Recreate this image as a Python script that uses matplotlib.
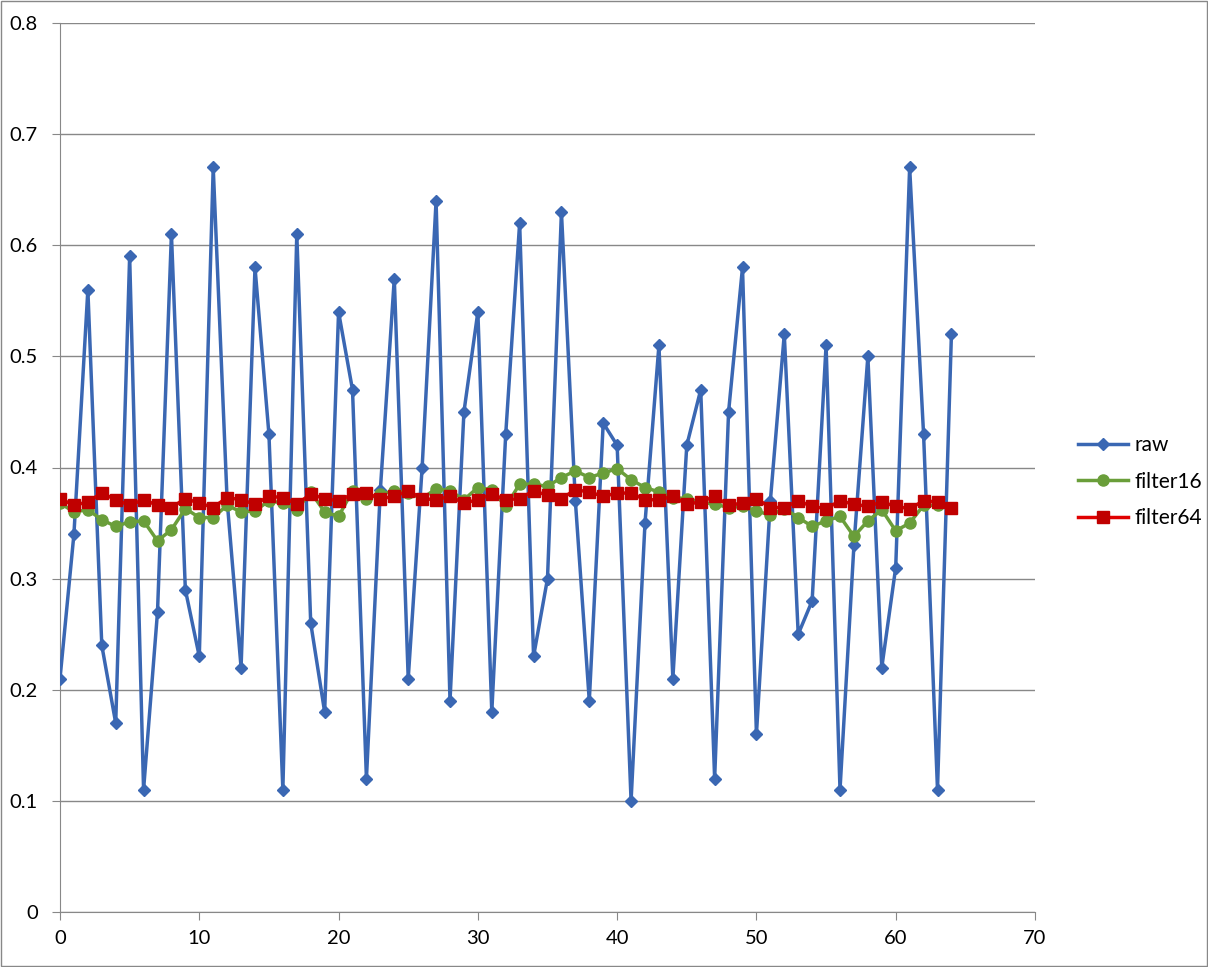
import matplotlib.pyplot as plt

plt.rcParams['font.family'] = ['Lato', 'DejaVu Sans']

x = list(range(65))

raw = [0.21, 0.34, 0.56, 0.24, 0.17, 0.59, 0.11, 0.27, 0.61, 0.29,
       0.23, 0.67, 0.37, 0.22, 0.58, 0.43, 0.11, 0.61, 0.26, 0.18,
       0.54, 0.47, 0.12, 0.38, 0.57, 0.21, 0.40, 0.64, 0.19, 0.45,
       0.54, 0.18, 0.43, 0.62, 0.23, 0.30, 0.63, 0.37, 0.19, 0.44,
       0.42, 0.10, 0.35, 0.51, 0.21, 0.42, 0.47, 0.12, 0.45, 0.58,
       0.16, 0.37, 0.52, 0.25, 0.28, 0.51, 0.11, 0.33, 0.50, 0.22,
       0.31, 0.67, 0.43, 0.11, 0.52]

filter16 = [0.368, 0.360, 0.362, 0.353, 0.347, 0.351, 0.352, 0.334, 0.344, 0.363,
            0.355, 0.355, 0.366, 0.360, 0.361, 0.370, 0.368, 0.362, 0.378, 0.360,
            0.356, 0.379, 0.372, 0.376, 0.379, 0.377, 0.372, 0.381, 0.379, 0.371,
            0.382, 0.380, 0.365, 0.385, 0.385, 0.383, 0.391, 0.397, 0.391, 0.395,
            0.399, 0.389, 0.382, 0.378, 0.373, 0.372, 0.369, 0.367, 0.364, 0.365,
            0.361, 0.357, 0.363, 0.355, 0.347, 0.352, 0.356, 0.338, 0.352, 0.362,
            0.343, 0.350, 0.366, 0.366, 0.364]

filter64 = [0.372, 0.366, 0.369, 0.377, 0.371, 0.366, 0.371, 0.366, 0.364, 0.372,
            0.368, 0.364, 0.373, 0.371, 0.367, 0.374, 0.373, 0.367, 0.376, 0.372,
            0.370, 0.376, 0.377, 0.372, 0.374, 0.379, 0.372, 0.371, 0.374, 0.368,
            0.371, 0.376, 0.371, 0.372, 0.379, 0.375, 0.372, 0.380, 0.378, 0.374,
            0.377, 0.377, 0.371, 0.371, 0.374, 0.367, 0.369, 0.374, 0.366, 0.368,
            0.372, 0.364, 0.364, 0.370, 0.365, 0.363, 0.370, 0.367, 0.365, 0.369,
            0.365, 0.363, 0.370, 0.369, 0.364]

fig = plt.figure(figsize=(12.08, 9.67), dpi=100)
ax = fig.add_axes([60 / 1208, 55 / 967, 975 / 1208, 889 / 967])

ax.plot(x, raw, color='#3A67B3', lw=2.5, marker='D', ms=6, label='raw', zorder=3)
ax.plot(x, filter16, color='#6A9E3A', lw=2.5, marker='o', ms=8, label='filter16', zorder=4)
ax.plot(x, filter64, color='#E00000', lw=2.5, marker='s', ms=8,
        mfc='#C00000', mec='#C00000', label='filter64', zorder=5)

ax.set_xlim(0, 70)
ax.set_ylim(0, 0.8)
ax.set_xticks(range(0, 71, 10))
ax.set_yticks([i / 10 for i in range(9)])
ax.set_yticklabels(['0'] + ['%.1f' % (i / 10) for i in range(1, 9)])
ax.yaxis.grid(True, color='#888888', lw=1)
ax.set_axisbelow(True)
for s in ['top', 'right']:
    ax.spines[s].set_visible(False)
for s in ['left', 'bottom']:
    ax.spines[s].set_color('#888888')
ax.tick_params(axis='both', colors='#888888', labelcolor='black', labelsize=14.5,
               length=6, direction='out')
ax.tick_params(axis='x', pad=7)
ax.tick_params(axis='y', pad=10)

ax.legend(loc='center left', bbox_to_anchor=(1.025, 0.484), frameon=False,
          fontsize=15, handlelength=2.4, handletextpad=0.3, labelspacing=0.8)

fig.patches.append(plt.Rectangle((0.001, 0.001), 0.998, 0.998, transform=fig.transFigure,
                                 fill=False, edgecolor='#888888', lw=1))

fig.savefig('out.png', dpi=100)
